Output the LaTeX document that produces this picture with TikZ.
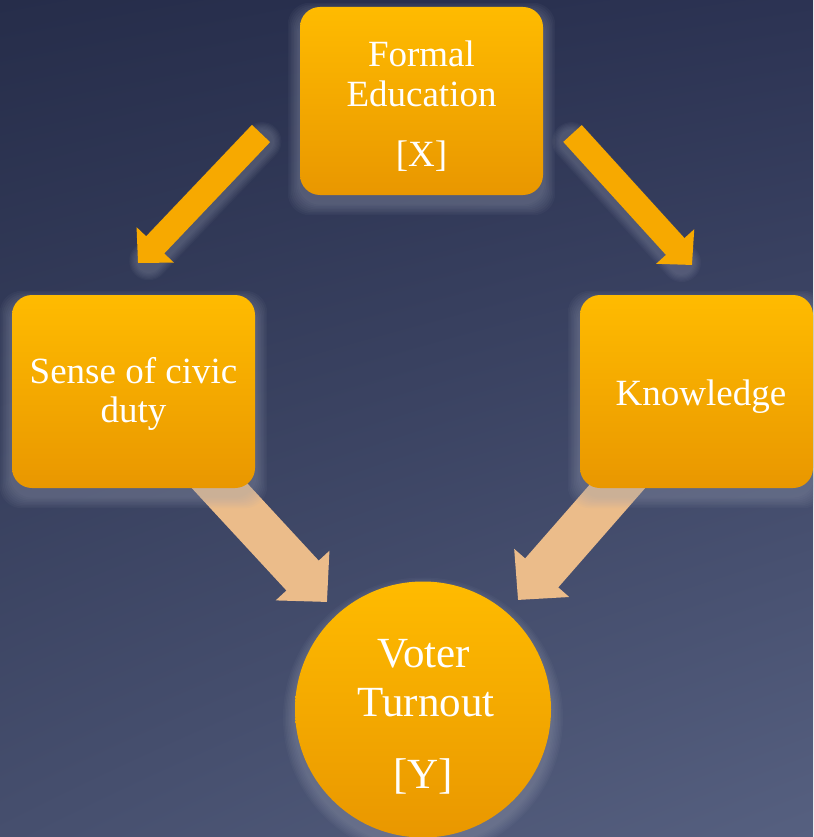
\documentclass[tikz,border=0pt]{standalone}
\usepackage{fontspec}
\setmainfont{Liberation Serif}
\usetikzlibrary{arrows.meta,calc,shadings}
\definecolor{bgUL}{HTML}{262D4A}
\definecolor{bgUR}{HTML}{2C3353}
\definecolor{bgLL}{HTML}{464F6E}
\definecolor{bgLR}{HTML}{566080}
\definecolor{boxtop}{HTML}{FFBB00}
\definecolor{boxbot}{HTML}{E99700}
\definecolor{arrtop}{HTML}{F7A900}
\definecolor{peach}{HTML}{EBBC8A}
\definecolor{glowc}{HTML}{9CA2B6}
\pgfdeclarelayer{back}
\pgfdeclarelayer{mid}
\pgfsetlayers{back,mid,main}
\begin{document}
\begin{tikzpicture}[x=1pt,y=-1pt,
  boxnode/.style={draw=none, rounded corners=20pt, top color=boxtop, bottom color=boxbot, inner sep=0pt},
  circnode/.style={circle, draw=none, top color=boxtop, bottom color=boxbot, inner sep=0pt, minimum size=256pt},
  lbl/.style={text=white, font=\fontsize{37}{40}\selectfont, anchor=base, inner sep=0pt},
  lblbig/.style={text=white, font=\fontsize{43}{49}\selectfont, anchor=base, inner sep=0pt},
  toparrow/.style={arrtop, line width=25pt, -{Triangle[width=50pt,length=25pt]}},
  botarrow/.style={peach, line width=44pt, -{Triangle[width=71pt,length=36pt]}},
  glowline/.style={glowc, opacity=0.05, line cap=round},
]
\useasboundingbox (0,0) rectangle (813,837);

% nodes
\node[boxnode, minimum width=243pt, minimum height=188pt] (fe) at (421.5,101) {};
\node[boxnode, minimum width=243pt, minimum height=193pt] (scd) at (133.5,391.5) {};
\node[boxnode, minimum width=233pt, minimum height=193pt] (kn) at (696.5,391.5) {};
\node[circnode] (vt) at (423,709.5) {};

% labels
\node[lbl] (fe1) at (421.5,67) {Formal};
\node[lbl] (fe2) at (421.5,107) {Education};
\node[lbl] (fe3) at (421.5,167) {[X]};
\node[lbl] (scd1) at (133.5,383) {Sense of civic};
\node[lbl] (scd2) at (133.5,422) {duty};
\node[lbl] (kn1) at (701,405) {Knowledge};
\node[lblbig] (vt1) at (424,667) {Voter};
\node[lblbig] (vt2) at (426,716) {Turnout};
\node[lblbig] (vt3) at (423,788) {[Y]};

% connector end points
\coordinate (tlA) at (261,133.5);
\coordinate (tlB) at (138,263);
\coordinate (trA) at (572.5,133.5);
\coordinate (trB) at (692,265);
\coordinate (blA) at (205,470);
\coordinate (blB) at (327,602);
\coordinate (brA) at (630,472);
\coordinate (brB) at (518,600);

\begin{pgfonlayer}{back}
  \shade[upper left=bgUL, upper right=bgUR, lower left=bgLL, lower right=bgLR] (0,0) rectangle (813,837);
  % glow of top arrows
  \foreach \i in {1,...,7} {
    \draw[glowline, line width={22+2.4*\i}] ($(tlA)+(1,8)$) -- ($(tlB)!14pt!(tlA)+(1,8)$);
    \draw[glowline, line width={22+2.4*\i}] ($(trA)+(-1,8)$) -- ($(trB)!14pt!(trA)+(-1,8)$);
  }
  \draw[toparrow] (tlA) -- (tlB);
  \draw[toparrow] (trA) -- (trB);
  \draw[botarrow] (blA) -- (blB);
  \draw[botarrow] (brA) -- (brB);
\end{pgfonlayer}

\begin{pgfonlayer}{mid}
  \foreach \i in {1,...,8} {
    \fill[glowc, opacity=0.055, rounded corners=22pt] ($(fe.north west)+(-1.5*\i,-1.5*\i+8)$) rectangle ($(fe.south east)+(1.5*\i,1.5*\i+8)$);
    \fill[glowc, opacity=0.055, rounded corners=22pt] ($(scd.north west)+(-1.5*\i,-1.5*\i+8)$) rectangle ($(scd.south east)+(1.5*\i,1.5*\i+8)$);
    \fill[glowc, opacity=0.055, rounded corners=22pt] ($(kn.north west)+(-1.5*\i,-1.5*\i+8)$) rectangle ($(kn.south east)+(1.5*\i,1.5*\i+8)$);
    \fill[glowc, opacity=0.055] ($(vt.center)+(0,8)$) circle[radius={128+1.5*\i}];
  }
\end{pgfonlayer}
\end{tikzpicture}
\end{document}
